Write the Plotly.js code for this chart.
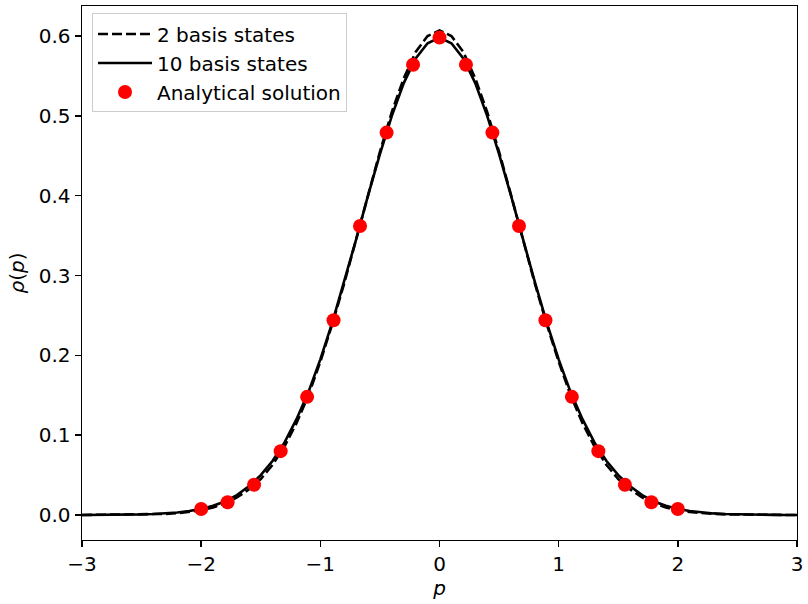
<!DOCTYPE html>
<html>
<head>
<meta charset="utf-8">
<script src="https://cdn.plot.ly/plotly-3.0.1.min.js"></script>
<style>body{margin:0;background:#fff}</style>
</head>
<body>
<div id="plot"></div>
<script>
// curves, p = -3 .. 3 step 0.1
var pGrid = [-3.0,-2.9,-2.8,-2.7,-2.6,-2.5,-2.4,-2.3,-2.2,-2.1,-2.0,-1.9,-1.8,-1.7,-1.6,-1.5,-1.4,-1.3,-1.2,-1.1,-1.0,
  -0.9,-0.8,-0.7,-0.6,-0.5,-0.4,-0.3,-0.2,-0.1,0.0,0.1,0.2,0.3,0.4,0.5,0.6,0.7,0.8,0.9,1.0,
  1.1,1.2,1.3,1.4,1.5,1.6,1.7,1.8,1.9,2.0,2.1,2.2,2.3,2.4,2.5,2.6,2.7,2.8,2.9,3.0];

var rho2 = [0.0000,0.0001,0.0001,0.0002,0.0003,0.0005,0.0008,0.0014,0.0023,0.0037,0.0060,0.0095,0.0145,0.022,0.032,0.045,0.063,0.086,0.115,0.150,0.192,
  0.239,0.290,0.345,0.401,0.455,0.505,0.547,0.580,0.600,0.607,0.600,0.580,0.547,0.505,0.455,0.401,0.345,0.290,0.239,0.192,
  0.150,0.115,0.086,0.063,0.045,0.032,0.022,0.0145,0.0095,0.0060,0.0037,0.0023,0.0014,0.0008,0.0005,0.0003,0.0002,0.0001,0.0001,0.0000];

var rho10 = [0.0001,0.0001,0.0002,0.0003,0.0005,0.0008,0.0013,0.0020,0.0032,0.0050,0.0076,0.0117,0.017,0.025,0.036,0.050,0.068,0.091,0.120,0.154,0.195,
  0.241,0.292,0.345,0.400,0.452,0.500,0.541,0.572,0.591,0.598,0.591,0.572,0.541,0.500,0.452,0.400,0.345,0.292,0.241,0.195,
  0.154,0.120,0.091,0.068,0.050,0.036,0.025,0.017,0.0117,0.0076,0.0050,0.0032,0.0020,0.0013,0.0008,0.0005,0.0003,0.0002,0.0001,0.0001];

// analytical points
var pExact = [-2.000,-1.778,-1.556,-1.333,-1.111,-0.889,-0.667,-0.444,-0.222,0.000,
  0.222,0.444,0.667,0.889,1.111,1.333,1.556,1.778,2.000];
var rhoExact = [0.0075,0.016,0.038,0.080,0.148,0.244,0.362,0.479,0.564,0.598,
  0.564,0.479,0.362,0.244,0.148,0.080,0.038,0.016,0.0075];

var font = {family: 'DejaVu Sans', size: 20, color: '#000'};

var traces = [
  {x: pGrid, y: rho2, mode: 'lines', name: '2 basis states',
   line: {color: '#000', width: 2.6, dash: '10px,4px'}},
  {x: pGrid, y: rho10, mode: 'lines', name: '10 basis states',
   line: {color: '#000', width: 2.6}},
  {x: pExact, y: rhoExact, mode: 'markers', name: 'Analytical solution',
   marker: {color: '#ff0000', size: 14}}
];

var axisStyle = {
  showgrid: false, zeroline: false, showline: true, mirror: true,
  linecolor: '#000', linewidth: 1.4,
  ticks: 'outside', ticklen: 6, tickwidth: 1.4, tickcolor: '#000',
  tickfont: font
};

var layout = {
  width: 808, height: 604,
  margin: {l: 82, r: 11, t: 6, b: 64},
  paper_bgcolor: '#fff', plot_bgcolor: '#fff',
  font: font,
  showlegend: true,
  legend: {x: 0.014, y: 0.986, xanchor: 'left', yanchor: 'top',
    bgcolor: 'rgba(255,255,255,0.8)', bordercolor: '#cccccc', borderwidth: 1,
    font: font, itemwidth: 54, tracegroupgap: 0},
  xaxis: Object.assign({}, axisStyle, {range: [-3, 3], dtick: 1, tick0: 0,
    title: {text: '<i>p</i>', font: font, standoff: 4}}),
  yaxis: Object.assign({}, axisStyle, {range: [-0.0313, 0.6376], dtick: 0.1, tick0: 0,
    tickformat: '.1f', title: {text: '<i>ρ</i>(<i>p</i>)', font: font, standoff: 8}})
};

Plotly.newPlot('plot', traces, layout, {staticPlot: true});
</script>
</body>
</html>
